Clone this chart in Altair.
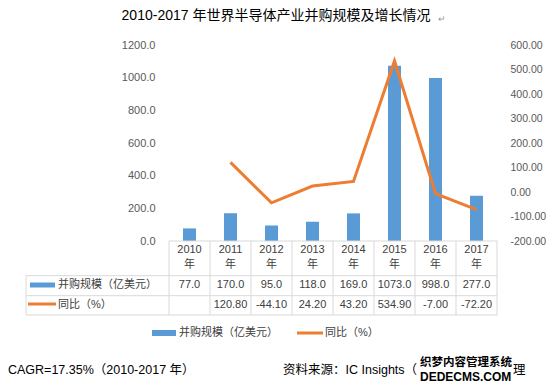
import altair as alt
import pandas as pd

# ---- data ----
years = ["2010", "2011", "2012", "2013", "2014", "2015", "2016", "2017"]
mna = [77.0, 170.0, 95.0, 118.0, 169.0, 1073.0, 998.0, 277.0]
yoy = [None, 120.80, -44.10, 24.20, 43.20, 534.90, -7.00, -72.20]
left_ticks = [0, 200, 400, 600, 800, 1000, 1200]
right_ticks = [-200, -100, 0, 100, 200, 300, 400, 500, 600]

title_text = "2010-2017 年世界半导体产业并购规模及增长情况"
s1_name = "并购规模（亿美元）"
s2_name = "同比（%）"
cagr_text = "CAGR=17.35%（2010-2017 年）"
source_text = "资料来源：IC Insights（"

df = pd.DataFrame({"year": years, "mna": mna, "yoy": yoy})
df["mna_txt"] = [f"{v:.1f}" for v in mna]
df["yoy_txt"] = ["" if v is None else f"{v:.2f}" for v in yoy]

W, H = 328, 196
FONT = "Liberation Sans, Noto Sans CJK SC, sans-serif"
BLUE = "#5B9BD5"
ORANGE = "#ED7D31"
GRID = "#D9D9D9"
LBL = "#595959"
TXT = "#404040"

base = alt.Chart(df)
one = alt.Chart(pd.DataFrame({"k": [0]}))

xenc = alt.X("year:N", sort=years, scale=alt.Scale(paddingInner=0, paddingOuter=0), axis=None)

bars = base.mark_bar(width=13, color=BLUE).encode(
    x=xenc,
    y=alt.Y("mna:Q", scale=alt.Scale(domain=[0, 1200], nice=False),
            axis=alt.Axis(orient="left", values=left_ticks, format=".1f", grid=False,
                          domain=False, ticks=False, labelPadding=14, labelColor=LBL,
                          labelFontSize=11, labelFont=FONT, title=None)),
)

line = base.transform_filter("isValid(datum.yoy)").mark_line(color=ORANGE, strokeWidth=3).encode(
    x=xenc,
    y=alt.Y("yoy:Q", scale=alt.Scale(domain=[-200, 600], nice=False),
            axis=alt.Axis(orient="right", values=right_ticks, format=".2f", grid=False,
                          labelExpr="replace(datum.label, '\u2212', '-')",
                          domain=False, ticks=False, labelPadding=13, labelColor=LBL,
                          labelFontSize=10.5, labelFont=FONT, title=None)),
)

layers = [bars, line]

# table vertical lines
layers.append(base.mark_rule(color=GRID).encode(
    x=alt.X("year:N", sort=years, bandPosition=0, scale=alt.Scale(paddingInner=0, paddingOuter=0), axis=None),
    y=alt.value(H), y2=alt.value(270)))
layers.append(one.mark_rule(color=GRID).encode(x=alt.value(W), y=alt.value(H), y2=alt.value(270)))
layers.append(one.mark_rule(color=GRID).encode(x=alt.value(-143), y=alt.value(230.7), y2=alt.value(270)))
# table horizontal lines
layers.append(one.mark_rule(color=GRID).encode(x=alt.value(0), x2=alt.value(W), y=alt.value(H)))
for yv in [230.7, 250.7, 270]:
    layers.append(one.mark_rule(color=GRID).encode(x=alt.value(-143), x2=alt.value(W), y=alt.value(yv)))

# table header and values
tkw = dict(font=FONT, fontSize=11, color=TXT, baseline="middle", align="center")
layers.append(base.mark_text(**tkw).encode(x=xenc, y=alt.value(205), text="year:N"))
layers.append(base.mark_text(**tkw).encode(x=xenc, y=alt.value(220), text=alt.value("年")))
layers.append(base.mark_text(**tkw).encode(x=xenc, y=alt.value(240), text="mna_txt:N"))
layers.append(base.mark_text(**tkw).encode(x=xenc, y=alt.value(260), text="yoy_txt:N"))

# table row keys
lkw = dict(font=FONT, fontSize=11, color=TXT, baseline="middle", align="left")
layers.append(one.mark_rect(color=BLUE).encode(x=alt.value(-139), x2=alt.value(-114), y=alt.value(237.5), y2=alt.value(242.5)))
layers.append(one.mark_text(**lkw).encode(x=alt.value(-111), y=alt.value(240), text=alt.value(s1_name)))
layers.append(one.mark_rule(color=ORANGE, strokeWidth=3).encode(x=alt.value(-141), x2=alt.value(-113), y=alt.value(259)))
layers.append(one.mark_text(**lkw).encode(x=alt.value(-111), y=alt.value(260), text=alt.value(s2_name)))

# bottom legend
layers.append(one.mark_rect(color=BLUE).encode(x=alt.value(-17), x2=alt.value(7), y=alt.value(285), y2=alt.value(291)))
layers.append(one.mark_text(**lkw).encode(x=alt.value(10), y=alt.value(288), text=alt.value(s1_name)))
layers.append(one.mark_rule(color=ORANGE, strokeWidth=3).encode(x=alt.value(128), x2=alt.value(154), y=alt.value(288)))
layers.append(one.mark_text(**lkw).encode(x=alt.value(156), y=alt.value(288), text=alt.value(s2_name)))

# title
layers.append(one.mark_text(font=FONT, fontSize=14, color="#000000", baseline="middle", align="center").encode(
    x=alt.value(107), y=alt.value(-29), text=alt.value(title_text)))
layers.append(one.mark_text(font=FONT, fontSize=9, color="#999999", baseline="middle", align="left").encode(
    x=alt.value(269), y=alt.value(-26), text=alt.value("↵")))

# footer
fkw = dict(font=FONT, fontSize=12.5, color="#000000", baseline="middle", align="left")
layers.append(one.mark_text(**fkw).encode(x=alt.value(-161), y=alt.value(325), text=alt.value(cagr_text)))
layers.append(one.mark_text(**fkw).encode(x=alt.value(114), y=alt.value(325), text=alt.value(source_text)))
layers.append(one.mark_text(**fkw).encode(x=alt.value(344), y=alt.value(325), text=alt.value("理")))
# watermark
layers.append(one.mark_text(font=FONT, fontSize=11.5, fontWeight="bold", color="#000000", baseline="middle", align="left").encode(
    x=alt.value(251), y=alt.value(318), text=alt.value("织梦内容管理系统")))
layers.append(one.mark_text(font=FONT, fontSize=12, fontWeight="bold", color="#000000", baseline="middle", align="left").encode(
    x=alt.value(251), y=alt.value(332), text=alt.value("DEDECMS.COM")))

chart = alt.layer(*layers).resolve_scale(y="independent").properties(
    width=W, height=H,
    padding={"left": 161, "top": 37, "right": 52, "bottom": 142},
    autosize=alt.AutoSizeParams(type="none"),
).configure_view(stroke=None)

chart.save("out.html", embed_options={"renderer": "svg", "actions": False})
